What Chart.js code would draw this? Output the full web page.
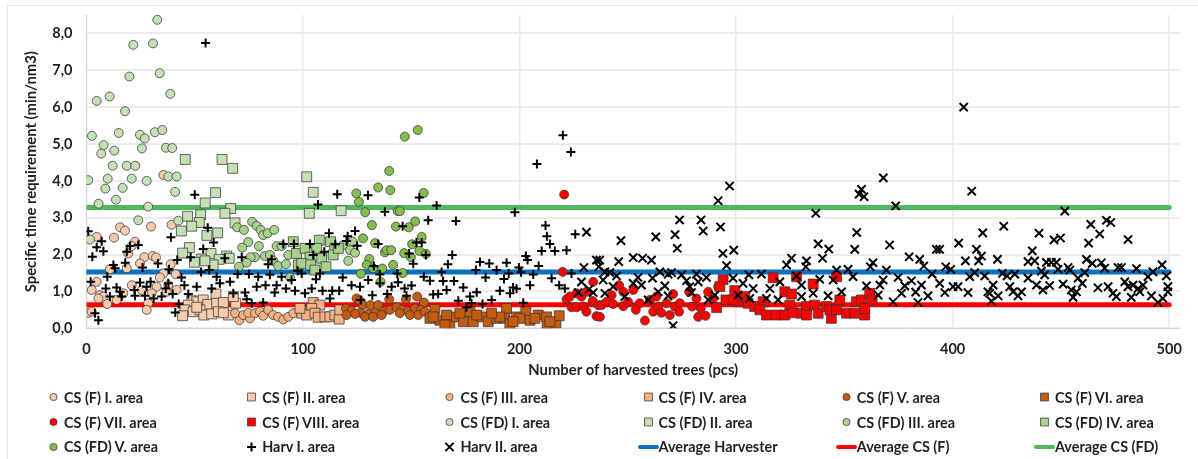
<!DOCTYPE html>
<html>
<head>
<meta charset="utf-8">
<title>Specific time requirement</title>
<script src="https://cdn.jsdelivr.net/npm/chart.js@4/dist/chart.umd.min.js"></script>
<style>
  html, body { margin: 0; padding: 0; background: #fff; }
  #wrap { position: relative; width: 1198px; height: 459px; overflow: hidden; filter: blur(0.35px); }
  #frame { position: absolute; left: 7px; top: 5px; right: 0; bottom: 0; border-left: 1px solid #e6e6e6; border-top: 1px solid #e6e6e6; }
  #lineChart { position: absolute; left: 0; top: 0; }
  #legend { position: absolute; left: 43px; top: 385px; display: grid; grid-template-columns: repeat(6, 198.2px); grid-auto-rows: 24.7px; }
  .item { display: flex; align-items: center; font: bold 14.4px Lato, sans-serif; color: #1f1f1f; white-space: nowrap; }
  .item canvas { display: block; }
</style>
</head>
<body>
<div id="wrap">
  <div id="frame"></div>
  <canvas id="lineChart" width="1198" height="459"></canvas>
  <div id="legend"></div>
</div>
<script>
const xTitle = 'Number of harvested trees (pcs)';
const yTitle = 'Specific time requirement (min/nm3)';
const xTicks = [0, 100, 200, 300, 400, 500];

const csF1 = [[4.7,2.48],[15.5,2.74],[17.8,2.65],[12.7,2.46],[22.4,2.35],[20.9,2.23],[19.3,2.03],[29.8,2.76],[39.3,2.81],[35.5,4.16],[26.7,1.93],[30.6,1.96],[32.1,1.92],[24.7,1.76],[38.9,1.74],[18.6,1.63],[10.8,1.6],[35.5,1.49],[41.2,1.47],[33.9,1.38],[4.7,1.26],[2.4,1.04],[20.9,1.17],[6.2,0.9],[7.8,0.86],[5.5,0.81],[9.6,0.66],[13.9,0.77],[28.5,0.68],[27.8,0.5],[0.8,0.42],[2.4,0.45],[37.8,1.17],[32.4,1.13],[25.5,1.04],[37,0.99],[41.6,1.04],[30.1,0.95],[17,0.95]];
const csF2 = [[59.8,0.93],[48.6,0.75],[50.9,0.72],[53.9,0.77],[56,0.65],[60.1,0.68],[63.2,0.7],[68.9,0.68],[67.8,0.86],[47,0.63],[45.5,0.5],[44.4,0.34],[49.3,0.45],[52.4,0.5],[54.2,0.36],[57.8,0.39],[60.9,0.45],[65.5,0.36],[63.2,0.42],[50.9,0.57]];
const csF3 = [[70.6,0.22],[68.6,0.41],[72.4,0.36],[75.5,0.27],[74.7,0.42],[77.8,0.41],[80.1,0.45],[81.6,0.34],[83.9,0.5],[86.2,0.36],[88.5,0.31],[90.9,0.24],[93.2,0.31],[95.5,0.41]];
const csF4 = [[104.7,0.7],[107.8,0.63],[104,0.54],[99.4,0.41],[101.7,0.36],[105.5,0.41],[107,0.3],[110.1,0.31],[112.4,0.31],[114.7,0.36],[116.7,0.25],[117,0.5],[98.6,0.54]];
const csF5 = [[124.7,0.81],[126.3,0.75],[139.8,0.79],[147.5,0.79],[152.7,0.86],[155.8,0.7],[127.8,0.63],[131.2,0.63],[134.7,0.63],[119.8,0.54],[122.4,0.48],[126.3,0.42],[130.1,0.39],[133.2,0.41],[137,0.45],[140.1,0.5],[143.2,0.57],[145.5,0.5],[148.6,0.45],[151.7,0.54],[154.3,0.5],[120.1,0.36],[124,0.39],[128.6,0.31],[132.4,0.31],[136.3,0.36],[144.7,0.41],[149.4,0.36],[153.2,0.36],[156.3,0.45]];
const csF6 = [[160.9,0.52],[158.6,0.27],[163.2,0.22],[166.3,0.36],[167.8,0.09],[170.9,0.31],[174,0.18],[177.1,0.45],[178.6,0.18],[182.4,0.31],[185.5,0.18],[189.4,0.27],[194,0.54],[193.2,0.27],[195.5,0.12],[198.6,0.31],[202.9,0.45],[204.8,0.22],[208.6,0.36],[212.7,0.12],[212.5,0.31],[216.8,0.14],[218.3,0.34],[160.1,0.31],[180.2,0.36],[190.9,0.31],[200.1,0.27],[207.1,0.27],[214,0.18],[172.4,0.41],[165.5,0.09],[187.1,0.41],[197,0.18]];
const csF7 = [[220.6,3.63],[219.9,1.53],[221.7,0.79],[224,0.57],[226.3,0.95],[223.2,0.86],[226.3,0.57],[228.6,0.86],[230.9,0.45],[229.4,0.59],[233.7,0.74],[235.5,0.33],[234,1.26],[236.3,0.63],[230.9,0.99],[237.9,0.63],[237.1,0.31],[240.2,0.72],[242.5,0.9],[243.2,0.66],[246,1.17],[247.9,0.99],[247.9,0.6],[250.1,0.72],[252.5,1.04],[253.7,0.5],[255.5,0.68],[257.9,0.21],[260.2,0.77],[261.7,0.45],[264,0.59],[265.5,0.42],[267.9,0.68],[269.4,0.36],[270.9,0.93],[271.7,0.59],[274,0.68],[273.7,0.45],[278.3,0.99],[279.7,0.59],[281.7,0.81],[283.7,0.54],[282.5,0.31],[285.9,0.34],[287.1,0.99],[289.4,0.81],[291.7,1.13],[263.2,0.86]];
const csF8 = [[294,1.32],[291,0.56],[292.5,1.13],[295.3,0.77],[299.4,1.02],[300.9,0.72],[304,0.86],[305.5,0.68],[308.6,0.59],[312.5,0.72],[311,0.5],[314,0.36],[317.1,1.37],[318.6,0.36],[322.5,0.99],[325.6,0.93],[324.8,0.63],[322.5,0.36],[327.9,1.4],[326.3,0.42],[330.2,0.41],[332.5,0.59],[335.6,1.2],[336.3,0.63],[337.9,0.41],[341.7,0.59],[344,0.27],[343.3,0.5],[346.4,1.4],[347.9,0.77],[346.4,0.5],[351,0.41],[355.6,0.72],[354.8,0.41],[357.9,0.77],[359.4,0.36],[361.7,0.95],[362.8,0.77],[359.4,0.54],[332.5,0.36],[298.6,0.77]];
const csFD1 = [[32.7,8.37],[21.6,7.69],[30.7,7.73],[19.8,6.83],[33.8,6.92],[38.7,6.36],[4.7,6.17],[10.7,6.29],[17.8,5.89],[2.5,5.22],[14.9,5.3],[24.7,5.25],[26.9,5.15],[31.6,5.32],[35,5.38],[7.9,4.97],[6.8,4.74],[12.8,4.82],[25.6,4.88],[36.7,4.9],[39.6,4.89],[12.1,4.41],[18.6,4.41],[22.5,4.41],[0.8,4.02],[9.8,4.06],[20.9,4.06],[27.8,4],[37.8,4.12],[41.6,4.12],[8.7,3.79],[16.7,3.81],[40.9,3.7],[5.6,3.38],[13.6,3.49],[28.5,3.3],[23.9,2.93],[1.6,2.41],[42.4,2.92]];
const csFD2 = [[45.6,4.58],[62.6,4.58],[67.5,4.34],[59.6,3.68],[54.8,3.4],[66.6,3.25],[63.9,3.12],[52.7,3.08],[46.7,3.04],[52.1,2.87],[68.6,2.86],[48.6,2.77],[43.8,2.64],[60.6,2.59],[55.6,2.52],[47.5,2.19],[44.4,2.04],[57.5,2.03],[53.2,1.88],[64.7,1.96],[61.3,1.87],[65.9,1.9],[49.8,1.79],[58.5,1.72],[54.7,1.83],[101.7,4.11],[104.7,3.69],[102.9,3.12],[117.6,3.19]];
const csFD3 = [[76.5,2.89],[78.6,2.78],[80.4,2.67],[81.6,2.53],[83.7,2.58],[86.7,2.67],[69.6,2.74],[72.7,2.67],[74.7,2.34],[71.9,2.19],[79.6,2.23],[87.8,2.23],[90.1,2.23],[77.8,1.93],[75.8,1.93],[74,1.78],[70.4,1.67],[82.4,1.96],[84.7,1.99],[93.2,1.99],[86.3,1.83],[88.5,1.69],[92.1,1.74],[94,1.38],[118.6,2.26],[122.9,2.35],[121.7,2.12],[124,2.05],[120.9,1.83]];
const csFD4 = [[95.5,2.35],[97,2.03],[97.8,1.72],[107.5,2.39],[112.7,2.35],[100.9,2.17],[106.3,2.17],[114.7,2.17],[113.9,1.99],[108.6,1.9],[103.2,1.93],[99.4,1.76],[103.5,1.72],[110.6,1.67],[105.5,1.58],[116.3,2.17]];
const csFD5 = [[139.8,4.27],[134.7,3.82],[124.6,3.66],[125.8,3.43],[128.7,3.15],[143.7,3.18],[144.7,3.18],[155.7,3.67],[131.8,2.8],[142.9,2.76],[148.8,2.74],[151.8,2.9],[127.7,2.44],[133.3,2.31],[154.8,2.48],[150.4,2.28],[137.8,2.06],[138.6,2.12],[140.7,2.12],[146.7,2.04],[153.7,2.1],[156.7,2.02],[149.8,1.93],[130.6,1.88],[129.4,1.72],[141.6,1.72],[132.4,1.63],[136.6,1.62],[126.7,1.48],[146,1.5],[135.8,1.26],[147,5.2],[153,5.38],[140.3,3.75]];
const harv1 = [[55,7.74],[0.8,2.63],[7,2.36],[4.7,2.2],[7.8,2.09],[2.7,1.94],[23.9,2.26],[20.1,2.23],[18.6,2.08],[17.9,1.78],[12.4,1.72],[13.2,1.63],[9.6,1.4],[1.9,1.26],[8.9,1.08],[13.9,1.11],[10.8,0.86],[15.5,0.99],[16.3,0.86],[22.1,1.04],[24.7,1.24],[27.8,1.13],[29.6,1.26],[22.4,0.88],[27,0.88],[31,0.81],[34.7,0.86],[36.6,1.08],[37.8,1.22],[39.8,0.93],[25.9,1.65],[33,1.76],[38.1,1.6],[41.9,1.85],[39,2.47],[50,3.62],[56,2.73],[58.7,2.33],[53.9,2.15],[48.1,1.93],[43.9,1.38],[45.2,1.17],[47,0.93],[42.6,0.66],[41,0.43],[3.9,0.41],[5.5,0.22],[52.9,1.53],[56.7,1.58],[50.9,1.13],[57.8,1.08],[60.1,1.4],[61.6,1.22],[66.3,1.26],[69.8,1.47],[75,1.47],[79.3,1.4],[84.7,1.45],[78.6,1.13],[82.7,1.17],[87.8,1.17],[86.9,0.97],[92.1,1.08],[96.3,1.02],[90.1,1.4],[94.7,1.31],[67.8,0.95],[73.2,0.97],[74,0.79],[76.3,0.68],[81.6,0.7],[63.9,1.9],[71.7,1.93],[83.9,1.74],[85.5,1.87],[90.9,2.29],[95.8,2.29],[97.5,1.56],[115.8,3.64],[106.9,3.36],[130,3.61],[153.7,3.55],[161.7,3.33],[137.8,3.16],[197.8,3.15],[157.8,2.93],[170.6,2.91],[146,2.77],[212,2.79],[225.7,2.55],[112,2.58],[124,2.64],[120.6,2.5],[212.6,2.5],[120.1,2.37],[103.2,2.29],[114.9,2.28],[125,2.24],[134.7,2.29],[152.4,2.33],[154.8,2.33],[214,2.29],[109.8,2.08],[104.7,1.99],[149,2.03],[156.7,1.99],[168.9,1.99],[210.2,2.1],[216.3,2.1],[221.7,2.12],[202.9,1.96],[203.7,1.85],[181.7,1.8],[186,1.76],[194,1.78],[166.9,1.74],[150.9,1.75],[132.7,1.69],[199.7,1.65],[208.8,1.69],[179.8,1.58],[189.4,1.58],[164,1.53],[200.7,1.52],[195,1.49],[107.8,1.49],[99.4,1.49],[143.5,1.49],[135.5,1.46],[206.3,1.46],[106,1.33],[118.3,1.38],[155.8,1.4],[158.6,1.29],[164.7,1.28],[169.7,1.28],[184.3,1.38],[192.8,1.34],[214.8,1.36],[104,1.08],[109,1.02],[113.5,1.02],[116.7,1.02],[122.4,1.17],[126.3,1.13],[130.1,1.31],[135.5,1.22],[140.9,1.13],[143.9,1.25],[146.9,1.08],[150.1,1.16],[132,0.9],[138.9,0.93],[147.8,0.88],[100.9,0.95],[112.4,0.81],[126.7,0.77],[160.1,0.92],[162.4,0.93],[166.3,1.04],[174,1.11],[171.7,0.75],[177.1,0.86],[180.2,0.98],[187.1,0.77],[190.9,1.02],[197,1.11],[198.6,1.07],[204.8,1.17],[195.6,0.95],[201.7,0.69],[182.9,0.66],[177.8,0.68],[175.5,0.57],[218.3,1.17],[220.9,1.08],[224,1.49],[220,5.24],[223.7,4.78],[208,4.46]];
const harv2 = [[230.9,2.61],[229.7,1.65],[235.5,1.85],[228.6,1.26],[227.1,0.97],[232.1,1.06],[234,0.97],[236.6,1.67],[297,3.86],[291.7,3.46],[273.9,2.94],[283.8,2.94],[284.8,2.64],[292.8,2.75],[271.8,2.54],[262.9,2.48],[246.8,2.38],[272.8,2.17],[293.9,2.03],[298.9,2.12],[245.8,1.81],[252.5,1.92],[256.8,1.9],[260.9,1.85],[295.6,1.7],[237,1.85],[239.4,1.53],[241.7,1.51],[244.8,1.42],[238.6,1.31],[264.8,1.53],[268.6,1.47],[270.2,1.51],[274.8,1.45],[281.7,1.47],[286.3,1.38],[254.7,1.38],[261.4,1.36],[252.5,1.22],[256.3,1.17],[277.1,1.29],[282.5,1.26],[267.1,1.15],[278.6,1.13],[243.2,1.13],[239.4,0.95],[248.6,0.86],[259.4,0.77],[264,0.99],[268.6,0.88],[279.4,0.97],[290.2,0.9],[287.1,0.77],[270.9,0.07],[336.8,3.12],[337.9,2.29],[342.8,2.15],[339.9,1.9],[357.9,3.77],[356.8,3.64],[359.1,3.57],[368,4.08],[373.7,3.32],[355.7,2.6],[370.9,2.26],[354.8,2.14],[363.2,1.78],[362,1.67],[325.6,1.9],[332.5,1.83],[323.3,1.72],[332.2,1.67],[351.7,1.6],[346.4,1.58],[369.4,1.58],[305.9,1.45],[311.7,1.47],[327.9,1.42],[354,1.4],[367.9,1.31],[374.8,1.38],[298.6,1.36],[303.2,1.22],[320.2,1.26],[330.2,1.17],[338.6,1.33],[344.8,1.31],[360.2,1.15],[366.4,1.17],[307.9,1.08],[315.6,1.08],[335.6,0.95],[342.5,0.88],[348.7,0.99],[365.6,0.9],[372.5,0.72],[300.9,0.9],[314,0.81],[319.4,0.77],[330.2,0.86],[306.3,0.81],[408.8,3.72],[405.1,6],[451.8,3.18],[471,2.93],[473,2.87],[423.6,2.77],[463.8,2.82],[467.9,2.56],[413.9,2.59],[439.9,2.58],[481,2.41],[446.8,2.4],[449.8,2.45],[462.8,2.31],[402.8,2.31],[392.5,2.14],[394,2.14],[411,2.14],[436.8,2.1],[379.9,1.94],[384.8,1.87],[405.9,1.83],[413.3,1.96],[412,1.83],[420.7,1.87],[434.8,1.81],[437.9,1.83],[443.3,1.79],[445.6,1.79],[447.9,1.79],[461.8,1.87],[464.5,1.76],[468.7,1.78],[386.7,1.69],[396.8,1.67],[399.1,1.6],[441,1.55],[448.7,1.6],[453.3,1.65],[454.1,1.58],[470.2,1.63],[476.4,1.65],[478,1.65],[484.9,1.62],[496.7,1.72],[492.5,1.53],[390.5,1.47],[410.2,1.51],[423,1.49],[428.7,1.47],[425.1,1.42],[407.9,1.4],[414.8,1.42],[434.8,1.36],[442.5,1.45],[461,1.51],[457.9,1.36],[498.7,1.42],[490.2,1.4],[381,1.29],[394,1.22],[479.5,1.26],[451,1.2],[459.9,1.22],[483.3,1.17],[487.9,1.17],[377.9,1.15],[385.6,1.17],[400.2,1.13],[402.5,1.13],[418.7,1.17],[426.4,1.13],[438.7,1.17],[444.8,1.16],[467.1,1.1],[471.8,1.13],[454.8,1.04],[441.7,1.04],[481,1.13],[485.6,1.08],[499.4,1.13],[376.4,0.95],[382.9,0.98],[396.4,0.97],[407.1,0.97],[416.3,0.99],[431.8,0.99],[457.2,0.99],[474,0.95],[486.4,0.99],[499.4,0.99],[388.6,0.88],[421,0.88],[430.2,0.88],[475.6,0.86],[482.5,0.84],[491.8,0.88],[455.6,0.84],[417.9,0.74],[384,0.7],[494.8,0.7],[497.1,0.81],[427.9,0.99],[417.1,0.95]];
const avgHarvester = [[0,1.53],[500,1.53]];
const avgCsF = [[0,0.64],[500,0.64]];
const avgCsFD = [[0,3.28],[500,3.28]];

const edge = 'rgba(55,55,55,0.75)';

function marker(label, data, pointStyle, color) {
  const radius = pointStyle === 'rect' ? 7 : 4.5;
  return { label, data, pointStyle, pointRadius: radius, backgroundColor: color, borderColor: edge, borderWidth: 1 };
}
function sign(label, data, pointStyle, radius) {
  return { label, data, pointStyle, pointRadius: radius, backgroundColor: '#000', borderColor: '#000', borderWidth: 2 };
}
function average(label, data, color) {
  return { label, data, showLine: true, pointRadius: 0, borderColor: color, backgroundColor: color, borderWidth: 5, borderCapStyle: 'round', order: 30 };
}

const datasets = [
  marker('CS (F) I. area', csF1, 'circle', '#f8cbad'),
  marker('CS (F) II. area', csF2, 'rect', '#f8cbad'),
  marker('CS (F) III. area', csF3, 'circle', '#f4b183'),
  marker('CS (F) IV. area', csF4, 'rect', '#f4b183'),
  marker('CS (F) V. area', csF5, 'circle', '#c55a11'),
  marker('CS (F) VI. area', csF6, 'rect', '#c55a11'),
  marker('CS (F) VII. area', csF7, 'circle', '#ff0000'),
  marker('CS (F) VIII. area', csF8, 'rect', '#ff0000'),
  marker('CS (FD) I. area', csFD1, 'circle', '#c5e0b4'),
  marker('CS (FD) II. area', csFD2, 'rect', '#c5e0b4'),
  marker('CS (FD) III. area', csFD3, 'circle', '#a9d18e'),
  marker('CS (FD) IV. area', csFD4, 'rect', '#a9d18e'),
  marker('CS (FD) V. area', csFD5, 'circle', '#84bd4e'),
  sign('Harv I. area', harv1, 'cross', 4.5),
  sign('Harv II. area', harv2, 'crossRot', 5.8),
  average('Average Harvester', avgHarvester, '#0b70c0'),
  average('Average CS (F)', avgCsF, '#ff0000'),
  average('Average CS (FD)', avgCsFD, '#4fb85c')
];
// later series sit on top of earlier ones, the average lines stay at the back
datasets.forEach((d, i) => { if (d.order === undefined) d.order = 20 - i; });

// legend is a fixed 6 x 3 grid, chart.js' own legend can't do that
const gridLegend = {
  id: 'gridLegend',
  afterInit(chart) {
    const box = document.getElementById('legend');
    chart.data.datasets.forEach((d) => {
      const item = document.createElement('div');
      item.className = 'item';
      const c = document.createElement('canvas');
      c.width = 21;
      c.height = 14;
      const ctx = c.getContext('2d');
      if (d.showLine) {
        ctx.strokeStyle = d.borderColor;
        ctx.lineWidth = 4;
        ctx.lineCap = 'round';
        ctx.beginPath();
        ctx.moveTo(2, 7);
        ctx.lineTo(19, 7);
        ctx.stroke();
      } else {
        ctx.fillStyle = d.backgroundColor;
        ctx.strokeStyle = d.borderColor;
        ctx.lineWidth = d.borderWidth;
        const r = d.pointStyle === 'rect' ? 5.6 : d.pointStyle === 'circle' ? 3.6 : d.pointRadius;
        Chart.helpers.drawPoint(ctx, { pointStyle: d.pointStyle, radius: r, rotation: 0, borderWidth: d.borderWidth }, 10.5, 7);
      }
      item.appendChild(c);
      const t = document.createElement('span');
      t.textContent = d.label;
      item.appendChild(t);
      box.appendChild(item);
    });
  }
};

const axisFont = { family: 'Lato', size: 14.5, weight: 'bold' };
const titleFont = { family: 'Lato', size: 14.8, weight: 'bold' };

new Chart(document.getElementById('lineChart').getContext('2d'), {
  type: 'scatter',
  data: { datasets },
  plugins: [gridLegend],
  options: {
    responsive: false,
    animation: false,
    layout: { padding: { left: 22, right: 18, top: 15, bottom: 80 } },
    plugins: { legend: { display: false }, tooltip: { enabled: false } },
    scales: {
      x: {
        type: 'linear',
        min: 0,
        max: 505,
        afterFit(scale) { scale.height = 50.7; scale.paddingLeft = 0; scale.paddingRight = 0; },
        afterBuildTicks(scale) { scale.ticks = xTicks.map((value) => ({ value })); },
        border: { color: '#d4d4d4', width: 1 },
        grid: { color: '#e9e9e9', lineWidth: 1.5, drawTicks: false },
        ticks: { maxRotation: 0, padding: 12, color: '#1f1f1f', font: axisFont },
        title: { display: true, text: xTitle, color: '#1f1f1f', font: titleFont, padding: 0 }
      },
      y: {
        min: 0,
        max: 8.5,
        afterFit(scale) { scale.width = 64.5; scale.paddingTop = 0; scale.paddingBottom = 0; },
        border: { color: '#d4d4d4', width: 1 },
        grid: { color: '#ececec', lineWidth: 2, drawTicks: false },
        ticks: { stepSize: 1, includeBounds: false, padding: 14, color: '#1f1f1f', font: axisFont, callback: (v) => v.toFixed(1).replace('.', ',') },
        title: { display: true, text: yTitle, color: '#1f1f1f', font: titleFont, padding: 0 }
      }
    }
  }
});
</script>
</body>
</html>
